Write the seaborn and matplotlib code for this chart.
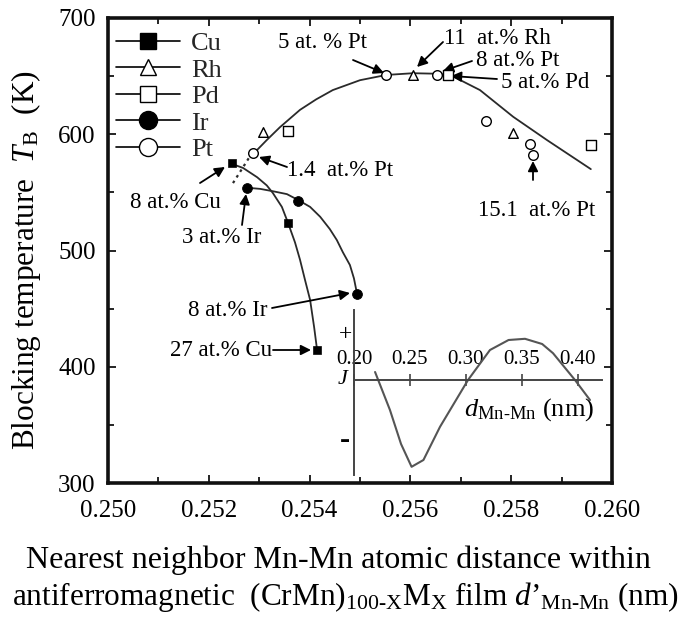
import numpy as np
import pandas as pd
import matplotlib
matplotlib.use("Agg")
import matplotlib.pyplot as plt
from matplotlib.lines import Line2D
from matplotlib.ticker import MultipleLocator
import seaborn as sns

# ---------------- data ----------------
cu_x = [0.25246, 0.25357, 0.25415]
cu_y = [575, 524, 414]
ir_x = [0.25276, 0.25377, 0.25494]
ir_y = [554, 543, 463]
pt_x = [0.25288, 0.25552, 0.25653, 0.25750, 0.25837, 0.25843]
pt_y = [584, 651, 651, 611, 592, 582]
rh_x = [0.25308, 0.25605, 0.25804]
rh_y = [602, 651, 601]
pd_x = [0.25357, 0.25674, 0.25958]
pd_y = [603, 651, 591]

# guide curves
guide_pt_x = [0.25288, 0.25315, 0.25341, 0.25381, 0.25413, 0.25446, 0.25500,
              0.25552, 0.25605, 0.25659, 0.25688, 0.25738, 0.25804, 0.25871, 0.25958]
guide_pt_y = [583, 595, 606, 621, 630, 638, 646.5, 651, 652.5, 652, 649, 638, 615, 595, 570]
guide_cu_x = [0.25246, 0.25268, 0.25296, 0.25315, 0.25327, 0.25345, 0.25357,
              0.25371, 0.25381, 0.25391, 0.25401, 0.25409, 0.25415]
guide_cu_y = [574.5, 571, 563, 556, 549.5, 537.5, 524, 507, 492, 474.5, 457.5, 434, 414]
guide_ir_x = [0.25276, 0.25302, 0.25327, 0.25355, 0.25377, 0.25401, 0.25421,
              0.25440, 0.25454, 0.25466, 0.25480, 0.25488, 0.25494]
guide_ir_y = [554, 553, 551, 548.5, 543.5, 537.5, 529, 518.5, 509, 498.5, 487.5, 476, 463]
dot_x = [0.25248, 0.25286]
dot_y = [558, 584]

# inset: exchange coupling J vs d(Mn-Mn)
j_d = [0.2188, 0.2321, 0.2420, 0.2514, 0.2620, 0.2768, 0.3018, 0.3214,
       0.3380, 0.3527, 0.3680, 0.3777, 0.3973, 0.4107]
j_val = [0.2, -0.75, -1.6, -2.17, -2.0, -1.17, 0.0, 0.75, 1.0, 1.03, 0.9, 0.67, 0.0, -0.5]

x_ticks = [0.250, 0.252, 0.254, 0.256, 0.258, 0.260]
y_ticks = [300, 400, 500, 600, 700]
inset_ticks = [0.20, 0.25, 0.30, 0.35, 0.40]

# ---------------- style ----------------
sns.set_theme(style="ticks")
plt.rcParams["font.family"] = ["Liberation Serif", "DejaVu Serif"]
plt.rcParams["mathtext.fontset"] = "custom"
plt.rcParams["mathtext.rm"] = "Liberation Serif"
plt.rcParams["mathtext.it"] = "Liberation Serif:italic"

W, H = 686, 617
fig = plt.figure(figsize=(W / 100, H / 100), dpi=100)
fig.patch.set_facecolor("white")
ax = fig.add_axes([108 / W, 1 - 483 / H, 504 / W, 465 / H])
ax.set_facecolor("white")

lc = "#2a2a2a"
lw = 1.3
sns.lineplot(x=guide_pt_x, y=guide_pt_y, sort=False, estimator=None, color=lc, lw=lw, ax=ax)
sns.lineplot(x=guide_cu_x, y=guide_cu_y, sort=False, estimator=None, color=lc, lw=lw, ax=ax)
sns.lineplot(x=guide_ir_x, y=guide_ir_y, sort=False, estimator=None, color=lc, lw=lw, ax=ax)
sns.lineplot(x=dot_x, y=dot_y, sort=False, estimator=None, color=lc, lw=1.6,
             linestyle=(0, (1.2, 1.8)), ax=ax)

sns.scatterplot(x=cu_x, y=cu_y, marker="s", s=34, color="black", edgecolor="black", ax=ax, zorder=4)
sns.scatterplot(x=ir_x, y=ir_y, marker="o", s=50, color="black", edgecolor="black", ax=ax, zorder=4)
sns.scatterplot(x=pt_x, y=pt_y, marker="o", s=48, facecolor="white", edgecolor="black",
                linewidth=1.0, ax=ax, zorder=4)
sns.scatterplot(x=rh_x, y=rh_y, marker="^", s=48, facecolor="white", edgecolor="black",
                linewidth=1.0, ax=ax, zorder=4)
sns.scatterplot(x=pd_x, y=pd_y, marker="s", s=48, facecolor="white", edgecolor="black",
                linewidth=1.0, ax=ax, zorder=4)

ax.set_xlim(0.250, 0.260)
ax.set_ylim(300, 700)
ax.set_xticks(x_ticks)
ax.set_xticklabels([f"{v:.3f}" for v in x_ticks])
ax.set_yticks(y_ticks)
ax.xaxis.set_minor_locator(MultipleLocator(0.001))
ax.yaxis.set_minor_locator(MultipleLocator(50))
ax.tick_params(which="both", direction="in", top=True, right=True, width=1.2, colors="black")
ax.tick_params(which="major", length=6)
ax.tick_params(which="minor", length=4)
ax.tick_params(axis="x", labelsize=18, pad=12)
ax.tick_params(axis="y", labelsize=18, pad=9)
for s in ax.spines.values():
    s.set_linewidth(2.6)
    s.set_color("#111111")

ax.set_xlabel("")
ax.set_ylabel(r"Blocking temperature  $T$$_{\rm B}$  (K)", fontsize=22.5, color="black")
ax.yaxis.set_label_coords(-0.128, 0.48)

# legend
handles = [
    Line2D([], [], color="black", lw=1.2, marker="s", markersize=11, mfc="black", mec="black"),
    Line2D([], [], color="black", lw=1.2, marker="^", markersize=11, mfc="white", mec="black"),
    Line2D([], [], color="black", lw=1.2, marker="s", markersize=11, mfc="white", mec="black"),
    Line2D([], [], color="black", lw=1.2, marker="o", markersize=13, mfc="black", mec="black"),
    Line2D([], [], color="black", lw=1.2, marker="o", markersize=13, mfc="white", mec="black"),
]
ax.legend(handles, ["Cu", "Rh", "Pd", "Ir", "Pt"], loc="upper left",
          bbox_to_anchor=(0.005, 0.982), frameon=False, fontsize=19,
          handlelength=2.45, handletextpad=0.4, labelspacing=0.115, borderpad=0.2,
          borderaxespad=0.0)

# annotations (positions in reference pixel space)
def fp(px, py):
    return (px, H - py)

ann = [
    ("5 at. % Pt", (322, 43), (353, 60), (384, 73)),
    ("11  at.% Rh", (497, 38), (443, 42), (417, 67)),
    ("8 at.% Pt", (518, 60), (472, 61), (443, 71)),
    ("5 at.% Pd", (545, 82), (497, 79), (451, 76)),
    ("1.4  at.% Pt", (340, 170), (287, 167), (259, 157)),
    ("8 at.% Cu", (175, 203), (200, 183), (225, 167)),
    ("3 at.% Ir", (222, 238), (242, 225), (246, 194)),
    ("8 at.% Ir", (228, 310), (272, 308), (350, 293)),
    ("27 at.% Cu", (221, 350), (273, 350), (311, 350)),
    ("15.1  at.% Pt", (537, 210), (533, 180), (533, 161)),
]
for txt, tpos, tail, tip in ann:
    fig.text(tpos[0] / W, 1 - tpos[1] / H, txt, ha="center", va="center",
             fontsize=16.5, color="black")
    ax.annotate("", xy=fp(*tip), xycoords="figure pixels", xytext=fp(*tail),
                textcoords="figure pixels",
                arrowprops=dict(arrowstyle="-|>", color="black", lw=1.3,
                                mutation_scale=15, shrinkA=0, shrinkB=0))

# inset
axi = fig.add_axes([354 / W, 1 - 475 / H, (602 - 354) / W, (475 - 310) / H])
axi.patch.set_alpha(0)
sns.lineplot(x=j_d, y=j_val, sort=False, estimator=None, color="#555555", lw=1.5, ax=axi)
axi.set_xlim(0.20, 0.20 + (602 - 354) * 0.05 / 56)
axi.set_ylim(-2.375, 1.75)
axi.spines["right"].set_visible(False)
axi.spines["bottom"].set_visible(False)
axi.spines["left"].set_color("#444444")
axi.spines["left"].set_linewidth(1.4)
axi.spines["top"].set_position(("data", 0))
axi.spines["top"].set_color("#444444")
axi.spines["top"].set_linewidth(1.4)
axi.xaxis.tick_top()
axi.set_xticks(inset_ticks)
axi.set_xticklabels([f"{v:.2f}" for v in inset_ticks])
axi.set_yticks([])
axi.tick_params(axis="x", direction="inout", length=8, width=1.2, labelsize=15,
                pad=4, colors="#444444", labelcolor="black")
axi.set_xlabel("")
axi.set_ylabel("")
fig.text(345 / W, 1 - 335 / H, "+", ha="center", va="center", fontsize=17, color="black")
fig.text(345 / W, 1 - 440 / H, "-", ha="center", va="center", fontsize=22,
         fontweight="bold", color="black")
fig.text(343 / W, 1 - 380 / H, r"$J$", ha="center", va="center", fontsize=16, color="black")
fig.text(529 / W, 1 - 410 / H, "$d$$_{\\rm Mn\u2010Mn}$ (nm)", ha="center", va="center",
         fontsize=19, color="black")

# x label
fig.text(338 / W, 1 - 560 / H, "Nearest neighbor Mn-Mn atomic distance within",
         ha="center", va="center", fontsize=23, color="black")
fig.text(345 / W, 1 - 597 / H,
         "antiferromagnetic  (CrMn)$_{\\rm 100\u2010X}$M$_{\\rm X}$ film $d$\u2019$_{\\rm Mn\u2010Mn}$ (nm)",
         ha="center", va="center", fontsize=22.5, color="black")

fig.savefig("out.png", dpi=100, facecolor="white")
